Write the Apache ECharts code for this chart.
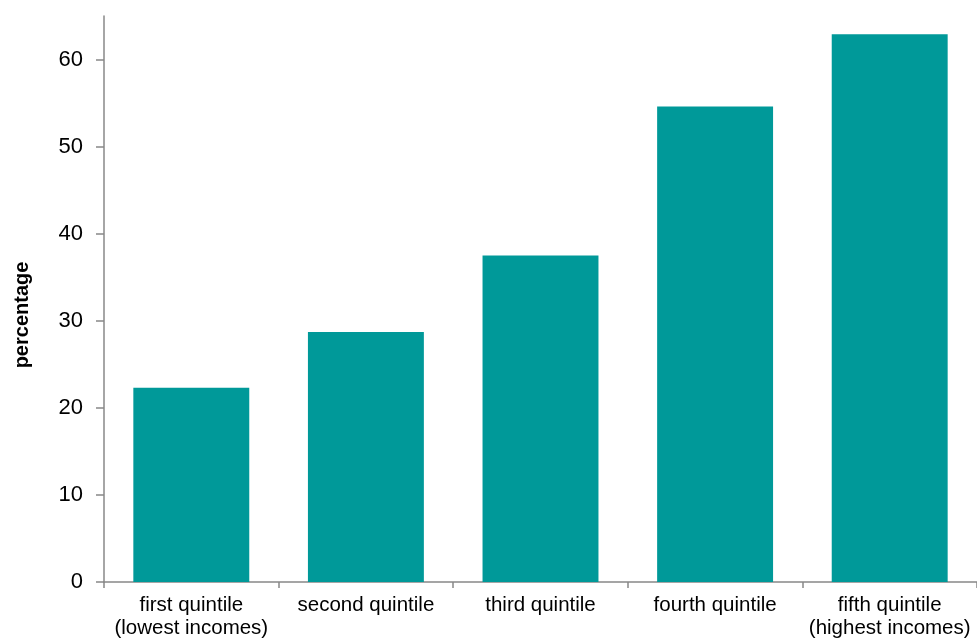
<!DOCTYPE html>
<html>
<head>
<meta charset="utf-8">
<script src="https://cdn.jsdelivr.net/npm/echarts@6/dist/echarts.min.js"></script>
<style>html,body{margin:0;padding:0;background:#fff}#c{width:977px;height:643px}</style>
</head>
<body>
<div id="c"></div>
<script>
const categories = ['first quintile\n(lowest incomes)', 'second quintile', 'third quintile', 'fourth quintile', 'fifth quintile\n(highest incomes)'];
const values = [22.3, 28.7, 37.5, 54.6, 62.9];
const yTicks = [0, 10, 20, 30, 40, 50, 60];
const yName = 'percentage';

const chart = echarts.init(document.getElementById('c'), null, {renderer: 'canvas'});
const axisColor = '#888888';
chart.setOption({
  animation: false,
  grid: {left: 104, right: 0, top: 16, bottom: 61, containLabel: false, outerBoundsMode: 'none'},
  xAxis: {
    type: 'category',
    data: categories,
    axisLine: {lineStyle: {color: axisColor, width: 1.5}},
    axisTick: {show: true, length: 6, lineStyle: {color: axisColor, width: 1.5}},
    axisLabel: {color: '#000', fontFamily: 'Liberation Sans, Arial', fontSize: 20.5, lineHeight: 23, margin: 12, interval: 0}
  },
  yAxis: {
    type: 'value',
    min: 0, max: 65, interval: 10,
    name: yName,
    nameLocation: 'middle',
    nameGap: 72,
    nameTextStyle: {color: '#000', fontFamily: 'Liberation Sans, Arial', fontSize: 20, fontWeight: 'bold', padding: [0, 32, 0, 0]},
    splitLine: {show: false},
    axisLine: {show: true, lineStyle: {color: axisColor, width: 1.5}},
    axisTick: {show: true, length: 8, customValues: yTicks, lineStyle: {color: axisColor, width: 1.5}},
    axisLabel: {color: '#000', fontFamily: 'Liberation Sans, Arial', fontSize: 22, margin: 21, customValues: yTicks}
  },
  series: [{
    type: 'bar',
    data: values,
    barCategoryGap: '33.6%',
    itemStyle: {color: '#009999'}
  }]
});
</script>
</body>
</html>
